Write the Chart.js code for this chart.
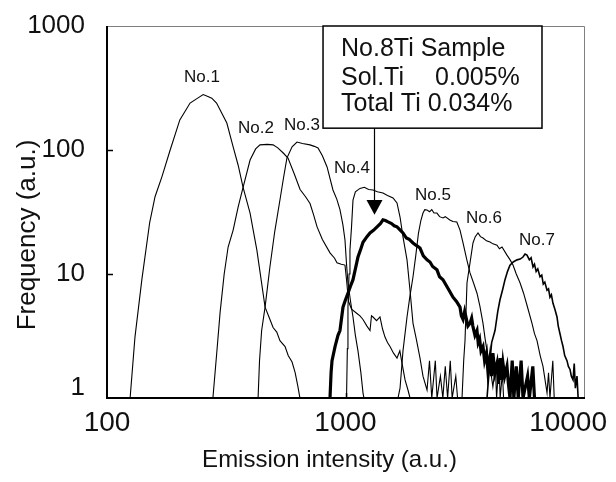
<!DOCTYPE html>
<html>
<head>
<meta charset="utf-8">
<script src="https://cdn.jsdelivr.net/npm/chart.js@4.4.1/dist/chart.umd.min.js"></script>
<style>
  html, body { margin: 0; padding: 0; background: #fff; }
  canvas { display: block; }
</style>
</head>
<body>
<canvas id="c" width="616" height="482"></canvas>
<script>
// ---- data: [emission intensity, frequency] ----
const no1 = [[125,1],[131,3.1],[140,9],[151,26],[159,42],[170,61],[184,100],[202,175],[223,239],[240,262],[253,280],[262,272],[275,262],[288,239],[300,205],[318,165],[338,106],[355,75],[372,50],[398,31],[425,15.6],[460,5.4],[480,4.4],[497,3.7],[515,3.4],[531,2.9],[558,2.6],[575,2.2],[597,1.95],[615,1.6],[632,1.23],[644,1]];
const no2 = [[278,1],[290,2.6],[298,4.9],[310,10],[322,16.5],[338,22.6],[355,35],[372,50],[398,83],[420,102],[438,110],[470,111],[497,110],[520,104],[547,95],[574,86],[610,64],[645,48],[680,42],[710,37],[735,30],[760,24],[800,19],[861,14.8],[900,13.4],[921,12.3],[960,12],[995,11.8],[1010,9],[1030,6],[1060,5.2],[1117,4.8],[1150,4.6],[1184,4.3],[1230,3.8],[1267,3.5],[1285,4.6],[1304,4.5],[1350,4.2],[1395,4.5],[1430,3.6],[1464,3.1],[1500,2.8],[1537,2.6],[1590,2.3],[1644,2.1],[1690,2.4],[1726,1.9],[1777,1.4],[1828,1.16],[1864,1]];
const no3 = [[430,1],[436,2],[445,3.5],[460,5.4],[482,11.4],[505,22],[531,39.5],[550,60],[568,86],[597,106],[626,116],[660,113],[710,110],[740,107],[767,104],[800,90],[837,73],[886,47.6],[920,40],[948,33],[975,25],[995,18.8],[1010,12],[1024,8.5],[1050,6],[1075,4.5],[1100,3.2],[1128,2.4],[1160,1.6],[1184,1.1],[1195,1]];
const no4 = [[1010,1],[1018,2.5],[1024,5.4],[1035,10],[1044,15.6],[1060,24],[1075,39.5],[1100,46],[1150,49],[1200,50],[1250,48],[1304,47.6],[1360,46],[1436,45],[1500,43],[1582,41],[1644,37.4],[1693,28.8],[1742,19.9],[1811,13],[1864,7.4],[1919,4],[1980,3],[2053,2.1],[2113,1.5],[2197,1.16],[2250,2],[2300,1],[2380,2],[2420,1],[2500,1.5],[2560,1],[2620,1.8],[2680,1],[2750,2],[2800,1],[2900,1.5],[2950,1]];
const no5 = [[1660,1],[1693,1.2],[1742,2.4],[1811,4.5],[1860,6.5],[1919,9.5],[1970,14],[2023,21.4],[2070,27],[2113,31],[2150,33],[2197,32.8],[2253,31.8],[2300,33],[2350,31],[2418,31],[2480,29],[2563,28.3],[2620,29],[2738,27.3],[2820,26.5],[2929,26.3],[3021,22.6],[3110,17.8],[3227,13],[3327,10.2],[3440,8.5],[3559,7],[3660,5.5],[3772,4],[3850,3],[3920,2.4],[4035,1.8],[4149,1.23],[4250,1.8],[4300,1],[4400,2],[4450,1],[4550,1.6],[4600,1]];
const no6 = [[3080,1],[3130,2],[3170,2.9],[3232,8.5],[3327,12.3],[3424,17.8],[3500,20],[3594,21.4],[3680,20],[3772,19.5],[3900,18.5],[4035,18.1],[4150,17.5],[4317,17.1],[4420,16],[4531,16.5],[4754,14.2],[4900,13],[5039,11.8],[5200,10],[5391,8.5],[5580,7],[5767,5.6],[6053,4],[6200,3.3],[6353,2.9],[6550,2.2],[6731,1.8],[6998,1.1],[7100,1.6],[7200,1],[7400,2],[7500,1]];
const no7 = [[3920,1],[4035,2],[4100,2.8],[4235,3.5],[4350,5],[4444,6.2],[4560,7.5],[4664,9],[4780,10.5],[4894,11.8],[5050,12.5],[5237,13],[5400,13.2],[5549,13.7],[5660,14.5],[5767,14.2],[5900,13],[6000,13.5],[6112,11.4],[6200,12],[6300,10.5],[6400,11],[6540,9.5],[6650,9.8],[6750,8.3],[6850,8.6],[6998,7.4],[7100,7.6],[7200,6.5],[7300,6.8],[7413,5.8],[7550,5.2],[7706,4.5],[7800,3.8],[7931,3.3],[8050,2.9],[8166,2.6],[8300,2.2],[8485,2],[8600,1.8],[8738,1.7],[8850,1.5],[8995,1.4],[9100,1.9],[9200,1.2],[9346,1.5],[9450,1],[9616,1]];
const no8 = [[861,1],[870,1.6],[878,2],[904,2.6],[930,3.2],[948,3.5],[976,5.4],[1000,6.2],[1024,7],[1050,8],[1075,9],[1100,11],[1128,13.7],[1160,16],[1184,18],[1230,20],[1267,21.4],[1310,22.5],[1356,24],[1400,25.5],[1436,27.3],[1470,27],[1508,26.3],[1560,25.5],[1600,24.5],[1644,24],[1700,22.5],[1742,21.4],[1800,19.5],[1850,19],[1919,17.8],[1980,17],[2053,16.2],[2120,14],[2197,13],[2260,12.5],[2320,11.5],[2418,10.8],[2480,9.5],[2563,9],[2665,7.9],[2740,7.2],[2823,6.5],[2920,6],[3021,5.4],[3060,4.6],[3110,4.3],[3160,5],[3200,4.5],[3260,3.8],[3327,4],[3380,4.4],[3420,3.8],[3490,3.2],[3559,3.5],[3600,2.8],[3650,3],[3700,2.4],[3772,2.6],[3830,2],[3900,2.3],[3960,1.6],[4035,2.1],[4100,1.5],[4150,2.3],[4230,1.6],[4317,1.9],[4380,1.3],[4450,2.1],[4520,1.4],[4575,1.9],[4650,1.5],[4754,1.8],[4820,1.3],[4894,1],[5000,2],[5080,1],[5200,1.8],[5300,1],[5450,2],[5550,1],[5800,1.5],[5900,1],[6100,1.8],[6200,1]];

const seriesNames = ['No.1','No.2','No.3','No.4','No.5','No.6','No.7','No.8'];
const xTicks = [100, 1000, 10000];
const yTicks = [1, 10, 100, 1000];
const xTitle = 'Emission intensity (a.u.)';
const yTitle = 'Frequency (a.u.)';
const noteLines = ['No.8Ti Sample', 'Sol.Ti', '0.005%', 'Total Ti 0.034%'];
// label anchors (data coords) for the curve names
const labelAnchors = [[250,388],[421,150],[657,159],[1065,71.6],[2328,43.4],[3808,28.3],[6353,18.8]];
// annotation box and arrow (data coords)
const noteBox = { x0: 805, x1: 6666, y0: 1000, y1: 150 };
const arrow = { x: 1317, yHead: 39.5, yTip: 30 };

const FONT = '"Liberation Sans", Arial, Helvetica, sans-serif';

const toPts = a => a.map(p => ({x: p[0], y: p[1]}));
const all = [no1, no2, no3, no4, no5, no6, no7, no8];

const overlay = {
  id: 'overlay',
  afterDatasetsDraw(chart) {
    const {ctx, chartArea: a, scales} = chart;
    const sx = scales.x, sy = scales.y;
    ctx.save();
    // frame
    ctx.strokeStyle = '#808080'; ctx.lineWidth = 1;
    ctx.beginPath();
    ctx.moveTo(a.left, a.top + 0.5); ctx.lineTo(a.right + 0.5, a.top + 0.5); ctx.lineTo(a.right + 0.5, a.bottom);
    ctx.stroke();
    ctx.strokeStyle = '#000'; ctx.lineWidth = 2;
    ctx.beginPath();
    ctx.moveTo(a.left, a.top); ctx.lineTo(a.left, a.bottom); ctx.lineTo(a.right + 1, a.bottom);
    ctx.stroke();
    // inward ticks
    ctx.lineWidth = 1.5;
    ctx.beginPath();
    yTicks.slice(1, -1).forEach(v => { const p = Math.round(sy.getPixelForValue(v)) + 0.5; ctx.moveTo(a.left, p); ctx.lineTo(a.left + 6, p); });
    xTicks.slice(1, -1).forEach(v => { const p = Math.round(sx.getPixelForValue(v)) + 0.5; ctx.moveTo(p, a.bottom); ctx.lineTo(p, a.bottom - 5); });
    ctx.stroke();

    ctx.fillStyle = '#111';
    // y tick labels
    ctx.font = '26px ' + FONT; ctx.textAlign = 'right'; ctx.textBaseline = 'middle';
    yTicks.forEach(v => {
      const p = Math.min(sy.getPixelForValue(v), a.bottom - 10);
      ctx.fillText(String(v), a.left - 22, p);
    });
    // x tick labels
    ctx.font = '28px ' + FONT; ctx.textAlign = 'center';
    xTicks.forEach(v => {
      const w = ctx.measureText(String(v)).width;
      const p = Math.min(sx.getPixelForValue(v), chart.width - 9 - w / 2);
      ctx.fillText(String(v), p, a.bottom + 25);
    });
    // titles
    ctx.font = '24px ' + FONT;
    ctx.fillText(xTitle, (a.left + a.right) / 2 - 16, a.bottom + 62);
    ctx.save();
    ctx.font = '26px ' + FONT;
    ctx.translate(28, (a.top + a.bottom) / 2 + 23);
    ctx.rotate(-Math.PI / 2);
    ctx.fillText(yTitle, 0, 0);
    ctx.restore();

    // curve names
    ctx.font = '17px ' + FONT; ctx.textAlign = 'center';
    labelAnchors.forEach((p, i) => {
      ctx.fillText(seriesNames[i], sx.getPixelForValue(p[0]), sy.getPixelForValue(p[1]));
    });

    // note box
    const bx0 = sx.getPixelForValue(noteBox.x0), bx1 = sx.getPixelForValue(noteBox.x1);
    const by0 = sy.getPixelForValue(noteBox.y0), by1 = sy.getPixelForValue(noteBox.y1);
    ctx.fillStyle = '#fff';
    ctx.fillRect(bx0, by0, bx1 - bx0, by1 - by0);
    ctx.strokeStyle = '#000'; ctx.lineWidth = 1.5;
    ctx.strokeRect(bx0, by0, bx1 - bx0, by1 - by0);
    ctx.fillStyle = '#111';
    ctx.font = '25px ' + FONT; ctx.textAlign = 'left'; ctx.textBaseline = 'middle';
    ctx.fillText(noteLines[0], bx0 + 18, by0 + 23);
    ctx.fillText(noteLines[1], bx0 + 18, by0 + 52);
    ctx.fillText(noteLines[2], bx0 + 112, by0 + 52);
    ctx.fillText(noteLines[3], bx0 + 18, by0 + 78);

    // arrow
    const ax = Math.round(sx.getPixelForValue(arrow.x)) + 0.5;
    const ah = sy.getPixelForValue(arrow.yHead), at = sy.getPixelForValue(arrow.yTip);
    ctx.lineWidth = 1.2;
    ctx.beginPath(); ctx.moveTo(ax, by1); ctx.lineTo(ax, ah); ctx.stroke();
    ctx.fillStyle = '#000';
    ctx.beginPath(); ctx.moveTo(ax - 8, ah); ctx.lineTo(ax + 8, ah); ctx.lineTo(ax, at); ctx.closePath(); ctx.fill();
    ctx.restore();
  }
};

new Chart(document.getElementById('c'), {
  type: 'line',
  data: {
    datasets: all.map((d, i) => ({
      label: seriesNames[i],
      data: toPts(d),
      borderColor: '#000',
      borderWidth: i === 7 ? 3.2 : (i === 6 ? 1.6 : 1.1),
      pointRadius: 0,
      tension: 0,
      fill: false
    }))
  },
  options: {
    responsive: false,
    animation: false,
    devicePixelRatio: 1,
    layout: { padding: { left: 107, top: 26, right: 32, bottom: 84 } },
    plugins: { legend: { display: false }, tooltip: { enabled: false } },
    scales: {
      x: { type: 'logarithmic', min: 100, max: 10000, display: false },
      y: { type: 'logarithmic', min: 1, max: 1000, display: false }
    }
  },
  plugins: [overlay]
});
</script>
</body>
</html>
